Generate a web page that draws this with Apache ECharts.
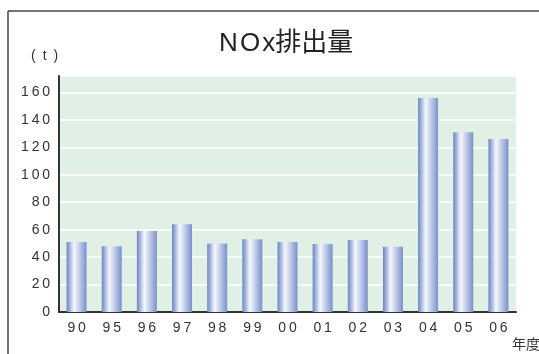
<!DOCTYPE html>
<html>
<head>
<meta charset="utf-8">
<script src="https://cdn.jsdelivr.net/npm/echarts@6/dist/echarts.min.js"></script>
<style>
  html, body { margin: 0; padding: 0; background: #fff; }
  #chart { width: 539px; height: 354px; }
</style>
</head>
<body>
<div id="chart"></div>
<script>
// Fiscal years (two-digit) and NOx emissions in tonnes
const years = ['90', '95', '96', '97', '98', '99', '00', '01', '02', '03', '04', '05', '06'];
const noxTonnes = [51, 48, 59, 64, 50, 53, 51, 49.5, 52.5, 47.5, 156, 131, 126];
const yTicks = [0, 20, 40, 60, 80, 100, 120, 140, 160];

const FONT = '"Liberation Sans", Arial, "Noto Sans CJK JP", sans-serif';
const spaced = s => String(s).split('').join('\u2009');

const chart = echarts.init(document.getElementById('chart'), null, { renderer: 'canvas' });

const barFill = new echarts.graphic.LinearGradient(0, 0, 1, 0, [
  { offset: 0, color: '#6a83c4' },
  { offset: 0.38, color: '#f6f8fd' },
  { offset: 1, color: '#7a90cc' }
]);

chart.setOption({
  backgroundColor: '#ffffff',
  animation: false,
  title: {
    text: 'N\u200aO\u200ax排出量',
    left: 214,
    top: 26,
    textStyle: { fontFamily: FONT, fontSize: 26, fontWeight: 'normal', color: '#222' }
  },
  grid: {
    left: 59, right: 23, top: 76, bottom: 42,
    show: true,
    backgroundColor: '#e1f0e5',
    borderWidth: 0
  },
  graphic: [
    // frame lines along the top and left edge
    { type: 'line', shape: { x1: 8, y1: 11, x2: 539, y2: 11 }, style: { stroke: '#444', lineWidth: 1.5 } },
    { type: 'line', shape: { x1: 8, y1: 11, x2: 8, y2: 354 }, style: { stroke: '#444', lineWidth: 1.5 } },
    { type: 'text', left: 31, top: 49, style: { text: '(\u2002t\u2002)', font: '14px ' + FONT, fill: '#333' } },
    { type: 'text', left: 512, top: 337, style: { text: '年度', font: '14px "Noto Sans CJK JP", sans-serif', fill: '#333' } }
  ],
  xAxis: {
    type: 'category',
    data: years,
    axisLine: { lineStyle: { color: '#333', width: 2 } },
    axisTick: { show: false },
    axisLabel: {
      margin: 9,
      fontFamily: FONT, fontSize: 14, color: '#333',
      formatter: v => spaced(v)
    }
  },
  yAxis: {
    type: 'value',
    min: 0,
    max: 172,
    interval: 20,
    axisLine: { show: true, lineStyle: { color: '#333', width: 2 } },
    axisTick: { show: false },
    splitLine: { lineStyle: { color: '#ffffff', width: 1.5 } },
    axisLabel: {
      margin: 9,
      showMaxLabel: false,
      fontFamily: FONT, fontSize: 14, color: '#333',
      formatter: v => (yTicks.indexOf(v) >= 0 ? spaced(v) : '')
    }
  },
  series: [{
    type: 'bar',
    data: noxTonnes,
    barWidth: 20,
    itemStyle: { color: barFill }
  }]
});
</script>
</body>
</html>
